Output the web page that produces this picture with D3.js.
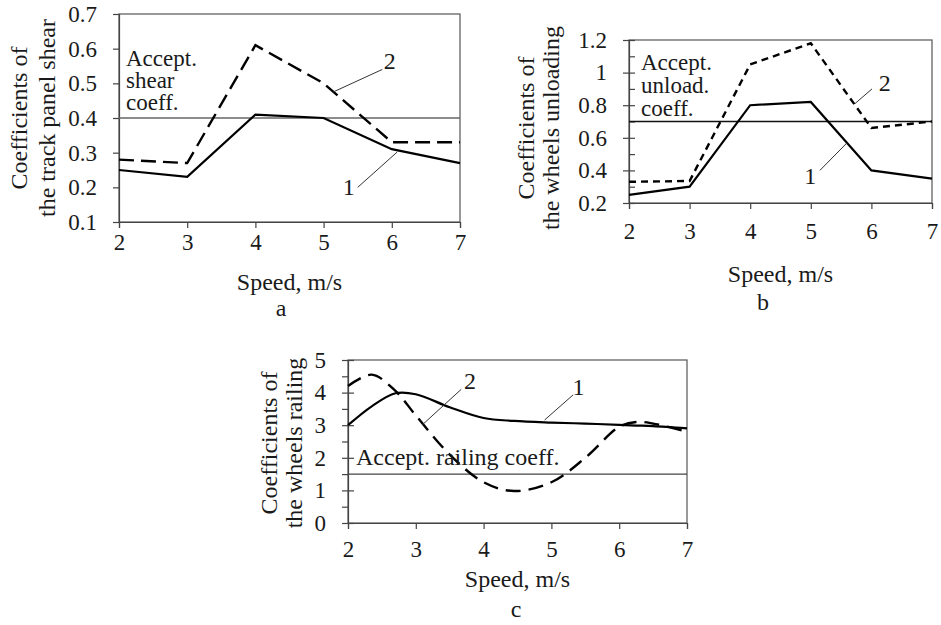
<!DOCTYPE html>
<html>
<head>
<meta charset="utf-8">
<script src="https://cdn.jsdelivr.net/npm/d3@7"></script>
</head>
<body style="margin:0">
<svg id="chart" width="941" height="625"></svg>
<script>
var width = 941
var height = 625

/* Data: panel a (track panel shear) */
var speeds = [2, 3, 4, 5, 6, 7]
var shear1 = [0.25, 0.23, 0.41, 0.40, 0.31, 0.27]
var shear2 = [0.28, 0.27, 0.61, 0.50, 0.33, 0.33]
var shearLimit = 0.4
var shearTicks = [0.1, 0.2, 0.3, 0.4, 0.5, 0.6, 0.7]

/* Data: panel b (wheels unloading) */
var unload1 = [0.25, 0.30, 0.80, 0.82, 0.40, 0.35]
var unload2 = [0.33, 0.335, 1.05, 1.18, 0.66, 0.70]
var unloadLimit = 0.7
var unloadTicks = [0.2, 0.4, 0.6, 0.8, 1, 1.2]
var unloadMinor = [0.3, 0.5, 0.7, 0.9, 1.1]

/* Data: panel c (wheels railing), smooth curves */
var railSpeeds = [2, 2.35, 2.7, 3.0, 3.5, 4.0, 4.45, 5.0, 5.5, 6.0, 6.25, 6.5, 7]
var rail1 = [3.0, 3.58, 3.98, 3.95, 3.55, 3.22, 3.13, 3.08, 3.05, 3.01, 2.99, 2.97, 2.9]
var rail2 = [4.2, 4.55, 4.05, 3.3, 2.1, 1.25, 0.98, 1.25, 2.0, 2.95, 3.1, 3.05, 2.8]
var railLimit = 1.5
var railTicks = [0, 1, 2, 3, 4, 5]
var railMinor = [0.5, 1.5, 2.5, 3.5, 4.5]

var fmt = d3.format("~g")
var fontName = "Liberation Serif"
var ink = "#1a1a1a"

/* SVG */
var svg = d3.select("#chart")
    .attr("width", width)
    .attr("height", height)
    .style("font-family", function () { return "'" + fontName + "'" })

svg.append("rect").attr("width", width).attr("height", height).attr("fill", "#fff")

function setFont(sel, size) {
    return sel
        .attr("font-size", size)
        .attr("fill", ink)
        .style("font-family", function () { return "'" + fontName + "'" })
}

function label(g, x, y, str, size, anchor) {
    return setFont(g.append("text")
        .attr("x", x)
        .attr("y", y)
        .attr("text-anchor", anchor || "middle")
        .text(str), size)
}

function styleAxis(a) {
    a.attr("font-family", null).attr("font-size", null)
    a.select(".domain").attr("stroke", "#444").attr("stroke-width", 1.2)
    a.selectAll(".tick line").attr("stroke", "#444").attr("stroke-width", 1.2)
    setFont(a.selectAll(".tick text"), 23)
}

function drawPanel(p) {
    var g = svg.append("g")

    var xScale = d3.scaleLinear().domain([2, 7]).range([p.left, p.right])
    var yScale = d3.scaleLinear().domain(p.yDomain).range([p.bottom, p.top])

    /* frame */
    g.append("rect")
        .attr("x", p.left).attr("y", p.top)
        .attr("width", p.right - p.left).attr("height", p.bottom - p.top)
        .attr("fill", "none").attr("stroke", "#555").attr("stroke-width", 1.2)

    /* Y axis */
    var yAxis = g.append("g")
        .attr("transform", "translate(" + p.left + ",0)")
        .call(d3.axisLeft(yScale).tickValues(p.yTicks).tickFormat(fmt).tickSize(6).tickPadding(16))
    styleAxis(yAxis)

    if (p.crossTicks) {
        g.append("g")
            .attr("transform", "translate(" + p.left + ",0)")
            .call(d3.axisLeft(yScale).tickValues(p.yTicks).tickFormat("").tickSize(-6))
            .call(function (s) { s.select(".domain").remove() })
            .selectAll("line").attr("stroke", "#444").attr("stroke-width", 1.2)
    }
    if (p.minor) {
        g.append("g")
            .attr("transform", "translate(" + p.left + ",0)")
            .call(d3.axisLeft(yScale).tickValues(p.minor).tickFormat("").tickSize(p.minorSize))
            .call(function (s) { s.select(".domain").remove() })
            .selectAll("line").attr("stroke", "#444").attr("stroke-width", 1.2)
    }

    /* X axis */
    var xAxis = g.append("g")
        .attr("transform", "translate(0," + p.bottom + ")")
        .call(d3.axisBottom(xScale).tickValues(speeds).tickFormat(fmt).tickSize(6).tickPadding(p.xPad))
    styleAxis(xAxis)

    /* acceptable limit */
    g.append("line")
        .attr("x1", p.left).attr("x2", p.right)
        .attr("y1", yScale(p.limit)).attr("y2", yScale(p.limit))
        .attr("stroke", p.limitColor).attr("stroke-width", 1.3)

    /* series */
    var line = d3.line()
        .x(function (d) { return xScale(d[0]) })
        .y(function (d) { return yScale(d[1]) })
        .curve(p.curve)

    g.append("path")
        .datum(d3.zip(p.xs, p.s1))
        .attr("d", line)
        .attr("fill", "none").attr("stroke", "#000").attr("stroke-width", 2.2)

    g.append("path")
        .datum(d3.zip(p.xs, p.s2))
        .attr("d", line)
        .attr("fill", "none").attr("stroke", "#000").attr("stroke-width", 2.4)
        .attr("stroke-dasharray", p.dash)

    /* limit label */
    p.limitText.forEach(function (t, i) {
        label(g, p.limitX, p.limitY + i * p.limitStep, t, p.limitSize, "start")
    })

    /* curve labels with leaders */
    p.leaders.forEach(function (l) {
        g.append("line")
            .attr("x1", xScale(l.x1)).attr("y1", yScale(l.y1))
            .attr("x2", xScale(l.x2)).attr("y2", yScale(l.y2))
            .attr("stroke", "#333").attr("stroke-width", 1)
        label(g, xScale(l.tx), yScale(l.ty), l.name, 24, "middle")
    })

    /* titles */
    label(g, 0, 0, "Coefficients of", 24)
        .attr("transform", "translate(" + p.t1x + "," + p.titleY + ") rotate(-90)")
    label(g, 0, 0, p.title2, 24)
        .attr("transform", "translate(" + p.t2x + "," + p.titleY + ") rotate(-90)")

    label(g, (p.left + p.right) / 2, p.xTitleY, "Speed, m/s", 24)
    label(g, p.letterX, p.letterY, p.letter, 24)
}

/* a */
drawPanel({
    left: 119, right: 460, top: 14, bottom: 222,
    yDomain: [0.1, 0.7], yTicks: shearTicks, xPad: 6,
    xs: speeds, s1: shear1, s2: shear2, curve: d3.curveLinear, dash: "15,7",
    limit: shearLimit, limitColor: "#666",
    limitText: ["Accept.", "shear", "coeff."], limitX: 126, limitY: 66, limitStep: 22, limitSize: 23,
    leaders: [
        { name: "2", x1: 5.14, y1: 0.475, x2: 5.86, y2: 0.54, tx: 5.97, ty: 0.54 },
        { name: "1", x1: 5.5, y1: 0.2, x2: 6.08, y2: 0.302, tx: 5.37, ty: 0.178 }
    ],
    title2: "the track panel shear", t1x: 27, t2x: 55, titleY: 118,
    xTitleY: 290, letter: "a", letterX: 281, letterY: 316
})

/* b */
drawPanel({
    left: 629, right: 932, top: 40, bottom: 203,
    yDomain: [0.2, 1.2], yTicks: unloadTicks, xPad: 14,
    minor: unloadMinor, minorSize: -6, crossTicks: true,
    xs: speeds, s1: unload1, s2: unload2, curve: d3.curveLinear, dash: "7,5",
    limit: unloadLimit, limitColor: "#111",
    limitText: ["Accept.", "unload.", "coeff."], limitX: 641, limitY: 70, limitStep: 23, limitSize: 23,
    leaders: [
        { name: "2", x1: 5.73, y1: 0.81, x2: 6.01, y2: 0.9, tx: 6.22, ty: 0.89 },
        { name: "1", x1: 5.15, y1: 0.4, x2: 5.6, y2: 0.57, tx: 4.99, ty: 0.316 }
    ],
    title2: "the wheels unloading", t1x: 534, t2x: 559, titleY: 128,
    xTitleY: 282, letter: "b", letterX: 763, letterY: 310
})

/* c */
drawPanel({
    left: 348, right: 687, top: 360, bottom: 523,
    yDomain: [0, 5], yTicks: railTicks, xPad: 12,
    minor: railMinor, minorSize: 6, crossTicks: true,
    xs: railSpeeds, s1: rail1, s2: rail2, curve: d3.curveCatmullRom, dash: "15,8",
    limit: railLimit, limitColor: "#444",
    limitText: ["Accept. railing coeff."], limitX: 356, limitY: 465, limitStep: 0, limitSize: 24,
    leaders: [
        { name: "1", x1: 4.9, y1: 3.16, x2: 5.32, y2: 3.93, tx: 5.4, ty: 3.93 },
        { name: "2", x1: 3.09, y1: 3.0, x2: 3.67, y2: 4.1, tx: 3.8, ty: 4.12 }
    ],
    title2: "the wheels railing", t1x: 277, t2x: 302, titleY: 443,
    xTitleY: 587, letter: "c", letterX: 516, letterY: 617
})
</script>
</body>
</html>
